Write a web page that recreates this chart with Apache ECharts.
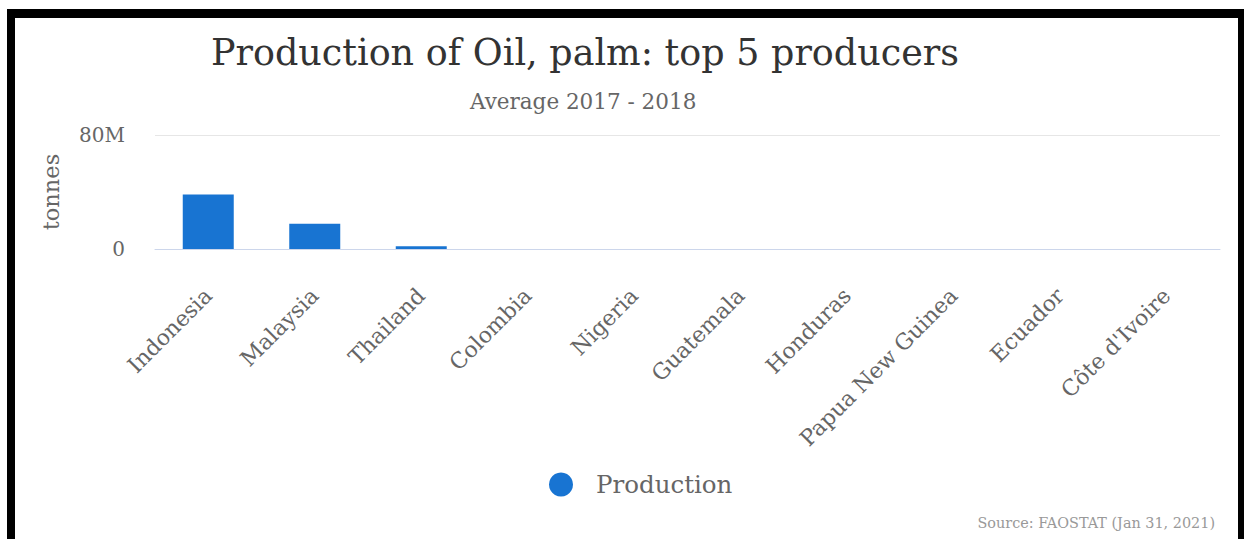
<!DOCTYPE html>
<html>
<head>
<meta charset="utf-8">
<script src="https://cdn.jsdelivr.net/npm/echarts@6/dist/echarts.min.js"></script>
<style>
  html, body { margin: 0; padding: 0; background: #fff; }
  #frame {
    position: absolute; left: 7px; top: 9px;
    width: 1223px; height: 530px;
    border-top: 9px solid #000; border-left: 8px solid #000; border-right: 6px solid #000;
    background: #fff;
  }
  #chart { width: 1223px; height: 521px; }
</style>
</head>
<body>
<div id="frame"><div id="chart"></div></div>
<script>
// values in tonnes (avg 2017-2018)
const countries = ["Indonesia", "Malaysia", "Thailand", "Colombia", "Nigeria",
  "Guatemala", "Honduras", "Papua New Guinea", "Ecuador", "Côte d'Ivoire"];
const production = [38300000, 17700000, 1900000, 60000, 50000,
  45000, 40000, 35000, 30000, 25000];
const yTicks = [0, 80000000];

const serif = "'DejaVu Serif', serif";

const chart = echarts.init(document.getElementById("chart"), null, { renderer: "svg" });

const fmtTonnes = (v) => (v === 0 ? "0" : v / 1000000 + "M");

chart.setOption({
  animation: false,
  title: [
    {
      text: "Production of Oil, palm: top 5 producers",
      left: 191,
      top: 11,
      textStyle: { fontFamily: serif, fontSize: 36.5, fontWeight: "normal", color: "#333" },
    },
    {
      text: "Average 2017 - 2018",
      left: 450,
      top: 67,
      textStyle: { fontFamily: serif, fontSize: 21.5, fontWeight: "normal", color: "#666" },
    },
    {
      text: "Source: FAOSTAT (Jan 31, 2021)",
      right: 18,
      bottom: 4,
      textStyle: { fontFamily: serif, fontSize: 14.4, fontWeight: "normal", color: "#999" },
    },
  ],
  legend: {
    data: ["Production"],
    left: 529,
    top: 449,
    icon: "circle",
    itemWidth: 24,
    itemHeight: 24,
    textStyle: { fontFamily: serif, fontSize: 24.5, color: "#666", padding: [0, 0, 0, 18] },
  },
  grid: { left: 140, right: 18, top: 117, bottom: 290, containLabel: false },
  xAxis: {
    type: "category",
    data: countries,
    axisLine: { lineStyle: { color: "#ccd6eb" } },
    axisTick: { length: 12, lineStyle: { color: "#ccd6eb" } },
    axisLabel: {
      rotate: 45,
      margin: 43,
      interval: 0,
      fontFamily: serif,
      fontSize: 22,
      color: "#666",
    },
  },
  yAxis: {
    type: "value",
    min: yTicks[0],
    max: yTicks[1],
    interval: yTicks[1],
    name: "tonnes",
    nameLocation: "middle",
    nameGap: 93,
    nameRotate: 90,
    nameTextStyle: { fontFamily: serif, fontSize: 22.5, color: "#666" },
    axisLine: { show: false },
    axisTick: { show: false },
    axisLabel: { margin: 30, fontFamily: serif, fontSize: 20, color: "#666", formatter: fmtTonnes },
    splitLine: { lineStyle: { color: "#e6e6e6" } },
  },
  series: [
    {
      name: "Production",
      type: "bar",
      data: production,
      barWidth: 51,
      itemStyle: { color: "#1874d2" },
    },
  ],
});
</script>
</body>
</html>
